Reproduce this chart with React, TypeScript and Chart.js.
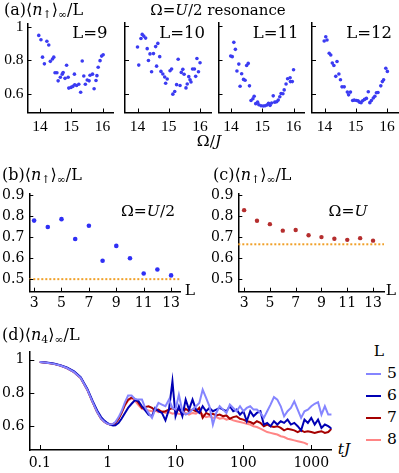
import React, { useEffect, useRef } from 'react';
import { Chart, registerables } from 'chart.js';
Chart.register(...registerables);

const SERIF = "'DejaVu Serif', serif";
const SERIF_A = "'Liberation Serif', serif";

// ---------- Panel (a): <n_up>/L vs Omega/J ----------
const omegaL9 = [13.96,14.03,14.22,14.28,14.08,14.14,14.33,14.40,14.44,14.48,14.54,14.58,14.65,14.71,14.74,14.85,14.80,14.90,14.92,14.99,15.05,15.10,15.11,15.17,15.24,15.30,15.35,15.40,15.45,15.51,15.57,15.60,15.68,15.73,15.79,15.82,15.86,15.92,15.97,16.02];
const nL9 = [0.948,0.922,0.913,0.891,0.819,0.779,0.794,0.808,0.819,0.726,0.726,0.678,0.699,0.718,0.728,0.771,0.693,0.699,0.635,0.639,0.645,0.718,0.655,0.650,0.658,0.610,0.796,0.707,0.658,0.683,0.678,0.711,0.718,0.631,0.680,0.709,0.759,0.798,0.825,0.833];
const omegaL10 = [14.15,14.11,14.20,14.26,14.00,14.04,14.31,14.40,14.51,14.58,14.65,14.35,14.45,14.61,14.71,14.75,14.81,14.87,14.90,14.95,15.04,15.09,15.13,15.19,15.25,15.30,15.36,15.40,15.45,15.49,15.55,15.59,15.64,15.68,15.71,15.76,15.82,15.86,15.90,15.95,16.00];
const nL10 = [0.950,0.926,0.940,0.928,0.876,0.769,0.866,0.835,0.837,0.878,0.897,0.796,0.730,0.763,0.819,0.732,0.717,0.699,0.662,0.687,0.736,0.746,0.598,0.614,0.654,0.804,0.649,0.726,0.744,0.715,0.635,0.658,0.701,0.683,0.670,0.746,0.746,0.703,0.808,0.730,0.783];
const omegaL11 = [14.09,13.99,14.04,14.14,14.19,14.25,14.29,14.34,14.40,14.45,14.50,14.55,14.59,14.64,14.70,14.74,14.79,14.85,14.89,14.96,15.03,15.09,15.15,15.20,15.25,15.30,15.35,15.40,15.46,15.51,15.56,15.60,15.66,15.70,15.76,15.81,15.89,15.90,15.96,16.00];
const nL11 = [0.903,0.823,0.819,0.862,0.734,0.775,0.645,0.718,0.685,0.680,0.767,0.779,0.647,0.561,0.571,0.586,0.542,0.551,0.536,0.530,0.528,0.530,0.534,0.544,0.532,0.546,0.588,0.551,0.553,0.563,0.583,0.602,0.600,0.623,0.658,0.689,0.695,0.672,0.672,0.742];
const omegaL12 = [14.04,14.08,13.99,14.15,14.20,14.25,14.40,14.30,14.36,14.46,14.51,14.56,14.63,14.73,14.77,14.83,14.90,14.95,15.02,15.07,15.12,15.17,15.22,15.28,15.34,15.40,15.45,15.50,15.56,15.61,15.66,15.71,15.80,15.85,15.89,15.96,16.01];
const nL12 = [0.936,0.917,0.911,0.839,0.829,0.781,0.790,0.767,0.703,0.717,0.683,0.641,0.641,0.610,0.594,0.610,0.561,0.563,0.561,0.559,0.551,0.548,0.559,0.567,0.573,0.612,0.548,0.561,0.575,0.586,0.606,0.608,0.647,0.672,0.683,0.751,0.732];
const omegaTicks = [14, 15, 16];
const aYTicks = [0.6, 0.8, 1];

// ---------- Panels (b), (c): <n_up>/L vs L ----------
const sizesL = [3,4,5,6,7,8,9,10,11,12,13];
const nHalfU = [0.780,0.749,0.787,0.692,0.755,0.588,0.659,0.600,0.527,0.546,0.518];
const nFullU = [0.830,0.779,0.763,0.732,0.735,0.710,0.701,0.693,0.688,0.696,0.684];
const refHalfU = 0.5;
const refFullU = 2 / 3;
const lTicks = [3,5,7,9,11,13];
const bcYTicks = [0.5,0.6,0.7,0.8,0.9];

// ---------- Panel (d): <n_4>/L vs tJ ----------
const times = [0.1,0.125,0.16,0.2,0.25,0.32,0.4,0.5,0.6,0.7,0.8,0.9,1.0,1.1,1.2,1.3,1.45,1.6,1.8,2.0,2.25,2.5,2.8,
  3.2,3.5,4.0,4.5,5.0,5.6,6.3,7.1,8.0,9.0,
  10,11.2,12.6,14.1,15.8,17.8,20,22.4,25.1,28.2,31.6,35.5,39.8,44.7,50.1,56.2,63.1,70.8,79.4,89.1,
  100,112,126,141,158,178,200,224,251,282,316,355,398,447,501,562,631,708,794,891,
  1000,1122,1259,1413,1585,1778,1995];
const n4L5 = [0.986,0.982,0.975,0.965,0.950,0.925,0.890,0.820,0.745,0.685,0.645,0.625,0.614,0.610,0.614,0.625,0.655,0.690,0.745,0.785,0.785,0.765,0.760,
  0.760,0.720,0.680,0.650,0.700,0.740,0.730,0.720,0.760,0.710,
  0.700,0.790,0.690,0.670,0.680,0.700,0.720,0.740,0.820,0.770,0.720,0.610,0.680,0.720,0.700,0.680,0.730,0.710,0.690,0.720,
  0.690,0.710,0.720,0.700,0.700,0.680,0.650,0.690,0.730,0.775,0.760,0.720,0.660,0.690,0.710,0.750,0.700,0.650,0.690,0.700,
  0.720,0.735,0.745,0.670,0.720,0.670,0.670];
const n4L6 = [0.986,0.983,0.977,0.967,0.953,0.930,0.895,0.825,0.752,0.695,0.655,0.632,0.618,0.608,0.604,0.606,0.620,0.645,0.680,0.710,0.735,0.755,0.755,
  0.720,0.700,0.670,0.660,0.710,0.690,0.680,0.635,0.700,0.870,
  0.660,0.720,0.660,0.760,0.700,0.760,0.700,0.680,0.720,0.690,0.710,0.690,0.700,0.710,0.700,0.690,0.720,0.690,0.700,0.670,
  0.690,0.630,0.690,0.660,0.680,0.690,0.610,0.620,0.600,0.630,0.610,0.630,0.620,0.640,0.610,0.620,0.600,0.575,0.640,0.620,
  0.650,0.610,0.640,0.590,0.610,0.600,0.585];
const n4L7 = [0.986,0.982,0.975,0.965,0.950,0.925,0.890,0.820,0.745,0.685,0.645,0.625,0.614,0.610,0.612,0.620,0.645,0.680,0.730,0.760,0.772,0.765,0.745,
  0.710,0.715,0.720,0.710,0.695,0.700,0.685,0.690,0.700,0.710,
  0.695,0.700,0.680,0.705,0.690,0.700,0.690,0.710,0.650,0.680,0.670,0.675,0.665,0.670,0.660,0.665,0.645,0.655,0.660,0.645,
  0.640,0.630,0.625,0.615,0.630,0.620,0.600,0.610,0.600,0.595,0.600,0.590,0.575,0.585,0.580,0.575,0.565,0.575,0.565,0.570,
  0.565,0.560,0.565,0.570,0.560,0.565,0.585];
const n4L8 = [0.986,0.982,0.975,0.965,0.950,0.925,0.890,0.820,0.745,0.685,0.645,0.625,0.614,0.610,0.612,0.620,0.645,0.680,0.725,0.755,0.768,0.755,0.730,
  0.705,0.700,0.695,0.690,0.695,0.685,0.690,0.680,0.685,0.675,
  0.680,0.675,0.670,0.680,0.670,0.680,0.675,0.690,0.670,0.655,0.660,0.650,0.655,0.645,0.650,0.640,0.645,0.635,0.630,0.625,
  0.620,0.615,0.610,0.600,0.595,0.585,0.575,0.565,0.560,0.555,0.550,0.540,0.535,0.525,0.520,0.515,0.510,0.505,0.500,0.490];
const timeTicks = [0.1, 1, 10, 100, 1000];
const dYTicks = [0.6, 0.8, 1];
const legendL = ['5', '6', '7', '8'];
const lineColors = ['#8585ff', '#0000b4', '#a50000', '#ff8585'];

// ---------- helpers ----------
type Box = { cl: number; ct: number; cw: number; ch: number; al: number; at: number; ar: number; ab: number };

const inTicks = {
  id: 'inTicks',
  afterDatasetsDraw(chart: any, _a: any, opts: any) {
    const { ctx, chartArea: a } = chart;
    const len = opts.len ?? 4;
    ctx.save();
    ctx.strokeStyle = '#000';
    ctx.lineWidth = 1;
    const xs = chart.scales.x, ys = chart.scales.y;
    xs.ticks.forEach((t: any) => {
      const x = Math.round(xs.getPixelForValue(t.value)) + 0.5;
      ctx.beginPath(); ctx.moveTo(x, a.bottom); ctx.lineTo(x, a.bottom - len); ctx.stroke();
    });
    ys.ticks.forEach((t: any) => {
      const y = Math.round(ys.getPixelForValue(t.value)) + 0.5;
      ctx.beginPath(); ctx.moveTo(a.left, y); ctx.lineTo(a.left + len, y); ctx.stroke();
    });
    ctx.restore();
  },
};

const hline = {
  id: 'hline',
  beforeDatasetsDraw(chart: any, _a: any, opts: any) {
    if (opts.value == null) return;
    const { ctx, chartArea: a } = chart;
    const y = chart.scales.y.getPixelForValue(opts.value);
    ctx.save();
    ctx.strokeStyle = opts.color || '#f0a020';
    ctx.lineWidth = 2;
    ctx.setLineDash([2, 2]);
    ctx.beginPath(); ctx.moveTo(a.left, y); ctx.lineTo(a.right, y); ctx.stroke();
    ctx.restore();
  },
};

function fmt(v: number) {
  return String(v);
}

function buildOptions(box: Box, xo: any, yo: any, extra: any = {}) {
  const yWidth = box.al - box.cl;
  const padTop = box.at - box.ct;
  const padRight = box.cl + box.cw - box.ar;
  const xHeight = box.ct + box.ch - box.ab;
  const font = xo.font;
  return {
    responsive: false,
    maintainAspectRatio: false,
    animation: false,
    devicePixelRatio: 1,
    events: [],
    layout: { padding: { top: padTop, right: padRight, left: 0, bottom: 0 } },
    plugins: { legend: { display: false }, tooltip: { enabled: false }, ...extra },
    scales: {
      x: {
        type: xo.type || 'linear',
        min: xo.min, max: xo.max,
        afterFit: (s: any) => { s.height = xHeight; },
        afterBuildTicks: (s: any) => { s.ticks = xo.ticks.map((v: number) => ({ value: v })); },
        ticks: { display: xo.labels !== false, font, color: '#000', padding: xo.pad, maxRotation: 0, autoSkip: false, callback: (v: any) => fmt(v) },
        grid: { display: false, drawTicks: false },
        border: { display: true, color: '#000', width: 1.5 },
      },
      y: {
        type: 'linear',
        min: yo.min, max: yo.max,
        afterFit: (s: any) => { s.width = yWidth; },
        afterBuildTicks: (s: any) => { s.ticks = yo.ticks.map((v: number) => ({ value: v })); },
        ticks: { display: yo.labels !== false, font: yo.font, color: '#000', padding: yo.pad, autoSkip: false, callback: (v: any) => fmt(v) },
        grid: { display: false, drawTicks: false },
        border: { display: true, color: '#000', width: 1.5 },
      },
    },
  };
}

function ChartCanvas({ box, make }: { box: Box; make: () => any }) {
  const ref = useRef<HTMLCanvasElement>(null);
  useEffect(() => {
    const chart = new Chart(ref.current as HTMLCanvasElement, make());
    return () => chart.destroy();
  }, []);
  return (
    <canvas ref={ref} width={box.cw} height={box.ch}
      style={{ position: 'absolute', left: box.cl, top: box.ct, width: box.cw, height: box.ch }} />
  );
}

function T({ x, y, a = 'l', s = 14, f = SERIF, children }: any) {
  const tx = a === 'l' ? '0' : a === 'c' ? '-50%' : '-100%';
  return (
    <div style={{ position: 'absolute', left: x, top: y, transform: `translate(${tx},-50%)`, fontFamily: f, fontSize: s, lineHeight: 1, whiteSpace: 'nowrap', color: '#000' }}>
      {children}
    </div>
  );
}

const Sub = ({ children }: any) => (
  <span style={{ fontSize: '0.68em', verticalAlign: '-0.3em', lineHeight: 0 }}>{children}</span>
);

const NUp = () => (<span>⟨<i>n</i><Sub>↑</Sub>⟩<Sub>∞</Sub>/L</span>);

const aPanels = [
  { x0: 27.5, ox: omegaL9, oy: nL9, label: 'L=9' },
  { x0: 125, ox: omegaL10, oy: nL10, label: 'L=10' },
  { x0: 218.5, ox: omegaL11, oy: nL11, label: 'L=11' },
  { x0: 312, ox: omegaL12, oy: nL12, label: 'L=12' },
];

function makeA(i: number) {
  const p = aPanels[i];
  const left = i === 0 ? 0 : Math.floor(p.x0 - 8);
  const box: Box = { cl: left, ct: 10, cw: Math.ceil(p.x0 + 86 + 5 - left), ch: 130, al: p.x0, at: 22.5, ar: p.x0 + 86, ab: 112.5 };
  const fontA = { family: SERIF_A, size: 15.5 };
  const make = () => ({
    type: 'scatter',
    data: { datasets: [{ data: p.ox.map((x, k) => ({ x, y: p.oy[k] })), backgroundColor: '#3b3bf2', borderWidth: 0, pointRadius: 1.8 }] },
    options: buildOptions(box,
      { min: 13.6, max: 16.35, ticks: omegaTicks, font: fontA, pad: 5 },
      { min: 0.49, max: 1.02, ticks: aYTicks, font: fontA, pad: 4, labels: i === 0 },
      { inTicks: { len: 4 } }),
    plugins: [inTicks],
  });
  return { box, make };
}

const fontBC = { family: SERIF, size: 14 };

const boxB: Box = { cl: 0, ct: 180, cw: 186, ch: 130, al: 29.3, at: 191, ar: 180, ab: 291.7 };
const makeB = () => ({
  type: 'scatter',
  data: { datasets: [{ data: sizesL.map((x, k) => ({ x, y: nHalfU[k] })), backgroundColor: '#2f2ff5', borderWidth: 0, pointRadius: 2.3 }] },
  options: buildOptions(boxB,
    { min: 2.65, max: 13.65, ticks: lTicks, font: fontBC, pad: 3 },
    { min: 0.44, max: 0.91, ticks: bcYTicks, font: fontBC, pad: 5 },
    { inTicks: { len: 4 }, hline: { value: refHalfU, color: '#f0a028' } }),
  plugins: [hline, inTicks],
});

const boxC: Box = { cl: 200, ct: 180, cw: 189, ch: 130, al: 238.3, at: 191, ar: 384, ab: 291.7 };
const makeC = () => ({
  type: 'scatter',
  data: { datasets: [{ data: sizesL.map((x, k) => ({ x, y: nFullU[k] })), backgroundColor: '#b52e2e', borderWidth: 0, pointRadius: 2.2 }] },
  options: buildOptions(boxC,
    { min: 2.55, max: 13.85, ticks: lTicks, font: fontBC, pad: 3 },
    { min: 0.44, max: 0.91, ticks: bcYTicks, font: fontBC, pad: 5 },
    { inTicks: { len: 4 }, hline: { value: refFullU, color: '#f0a028' } }),
  plugins: [hline, inTicks],
});

const boxD: Box = { cl: 0, ct: 338, cw: 337, ch: 135, al: 29.3, at: 349.3, ar: 331.7, ab: 450 };
const seriesD = [n4L5, n4L6, n4L7, n4L8];
const makeD = () => ({
  type: 'line',
  data: {
    datasets: seriesD.map((s, k) => ({
      label: legendL[k],
      data: s.map((y, j) => ({ x: times[j], y })),
      borderColor: lineColors[k],
      borderWidth: 2,
      pointRadius: 0,
      tension: 0,
      fill: false,
    })),
  },
  options: buildOptions(boxD,
    { type: 'logarithmic', min: 0.07, max: 2000, ticks: timeTicks, font: fontBC, pad: 5 },
    { min: 0.457, max: 1.05, ticks: dYTicks, font: fontBC, pad: 5 },
    { inTicks: { len: 5 } }),
  plugins: [inTicks],
});

export default function App() {
  const aCharts = aPanels.map((_, i) => makeA(i));
  return (
    <div style={{ position: 'absolute', left: 0, top: 0, width: 399, height: 473, background: '#fff', overflow: 'hidden' }}>
      {aCharts.map((c, i) => <ChartCanvas key={i} box={c.box} make={c.make} />)}
      <ChartCanvas box={boxB} make={makeB} />
      <ChartCanvas box={boxC} make={makeC} />
      <ChartCanvas box={boxD} make={makeD} />

      <T x={4} y={10} s={16}>(a)<NUp /></T>
      <T x={218} y={10} a="c" s={15}>Ω=<i>U</i>/2 resonance</T>
      {aPanels.map((p, i) => <T key={i} x={p.x0 + 80} y={33} a="r" s={16.5}>{p.label}</T>)}
      <T x={209} y={142} a="c" s={15.5}>Ω/<i>J</i></T>

      <T x={2} y={175} s={16}>(b)<NUp /></T>
      <T x={148} y={212} a="c" s={15.5}>Ω=<i>U</i>/2</T>
      <T x={190} y={291} a="c" s={15.5}>L</T>

      <T x={213} y={175} s={16}>(c)<NUp /></T>
      <T x={348} y={212} a="c" s={15.5}>Ω=<i>U</i></T>
      <T x={391} y={291} a="c" s={15.5}>L</T>

      <T x={2} y={335} s={16}>(d)⟨<i>n</i><Sub>4</Sub>⟩<Sub>∞</Sub>/L</T>
      <T x={344} y={450} a="c" s={15.5}><i>tJ</i></T>

      <T x={379} y={352} a="c" s={15.5}>L</T>
      {legendL.map((l, k) => (
        <div key={l} style={{ position: 'absolute', left: 366, top: 373.5 + k * 22.2 }}>
          <div style={{ position: 'absolute', left: 0, top: -1, width: 15, height: 2, background: lineColors[k] }} />
          <T x={21} y={0} s={15.5}>{l}</T>
        </div>
      ))}
    </div>
  );
}
